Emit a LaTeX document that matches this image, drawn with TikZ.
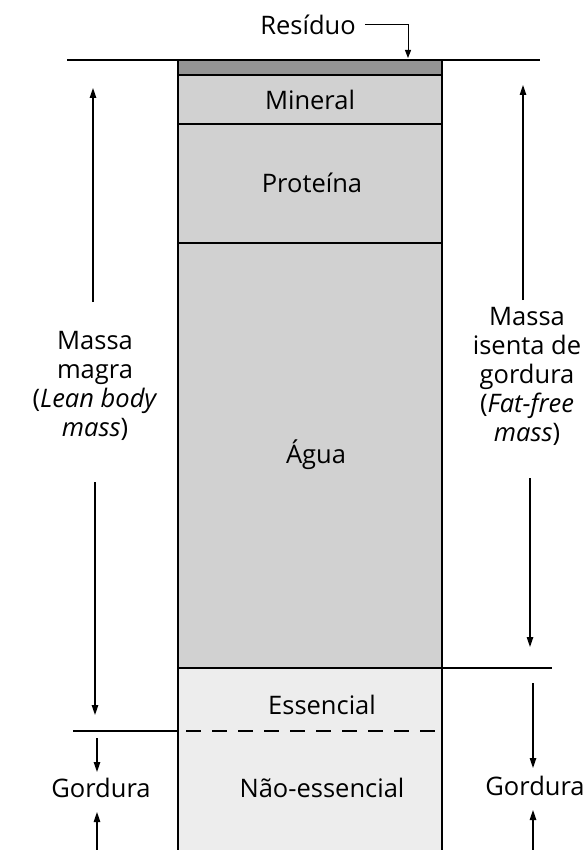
\documentclass[tikz,border=0pt]{standalone}
\usepackage{fontspec}
\setmainfont{Open Sans}
\usetikzlibrary{arrows.meta,positioning}

\begin{document}
\begin{tikzpicture}[x=1pt,y=-1pt,
  lay/.style={line width=1.6pt},
  lbl/.style={font=\fontsize{25.5}{29}\selectfont,align=center,inner sep=0pt},
  arr/.style={line width=1.2pt,-{Triangle[length=10pt,width=6.5pt]}}]
\useasboundingbox (0,0) rectangle (586,850);
% column fills
\fill[black!42] (178,60) rectangle (442,75);
\fill[black!18] (178,75) rectangle (442,668);
\fill[black!7] (178,668) rectangle (442,850);
% lines
\coordinate (tl) at (67,60);
\coordinate (tr) at (540,60);
\draw[lay] (tl) -- (tr);
\draw[lay] (178,60) -- (178,850);
\draw[lay] (442,60) -- (442,850);
\draw[lay] (178,75) -- (442,75);
\draw[lay] (178,124) -- (442,124);
\draw[lay] (178,243) -- (442,243);
\draw[lay] (178,668) -- (552,668);
\draw[lay] (73,731) -- (178,731);
\draw[line width=2.4pt,dash pattern=on 15pt off 11pt] (186,731) -- (440,731);

% layer labels
\node[lbl] (res) at (308,25) {Resíduo};
\node[lbl] (min) at (310,100) {Mineral};
\node[lbl] (pro) at (312,183) {Proteína};
\node[lbl] (agu) at (316,455) {Água};
\node[lbl] (ess) at (322,705) {Essencial};
\node[lbl] (nes) at (322,788) {Não-essencial};

% side labels
\node[lbl] (mm) at (95,386) {Massa\\magra\\(\textit{Lean body}\\\textit{mass})};
\node[lbl] (mi) at (527,376) {Massa\\isenta de\\gordura\\(\textit{Fat-free}\\\textit{mass})};
\node[lbl] (gl) at (101,788) {Gordura};
\node[lbl] (gr) at (535,786) {Gordura};

% arrows
\coordinate (rt) at (408,58);
\draw[line width=1pt,-{Triangle[length=8pt,width=6pt]}] ([xshift=9pt]res.east) -| (rt);
\coordinate (la1) at (93,302);  \coordinate (la2) at (93,88);
\coordinate (la3) at (95,482);  \coordinate (la4) at (95,715);
\coordinate (la5) at (97,738);  \coordinate (la6) at (97,772);
\coordinate (la7) at (97,850);  \coordinate (la8) at (97,812);
\coordinate (ra1) at (523,300); \coordinate (ra2) at (523,85);
\coordinate (ra3) at (530,478); \coordinate (ra4) at (530,647);
\coordinate (ra5) at (533,683); \coordinate (ra6) at (533,768);
\coordinate (ra7) at (533,850); \coordinate (ra8) at (533,810);
\draw[arr] (la1) -- (la2);
\draw[arr] (la3) -- (la4);
\draw[arr] (la5) -- (la6);
\draw[arr] (la7) -- (la8);
\draw[arr] (ra1) -- (ra2);
\draw[arr] (ra3) -- (ra4);
\draw[arr] (ra5) -- (ra6);
\draw[arr] (ra7) -- (ra8);
\end{tikzpicture}
\end{document}
